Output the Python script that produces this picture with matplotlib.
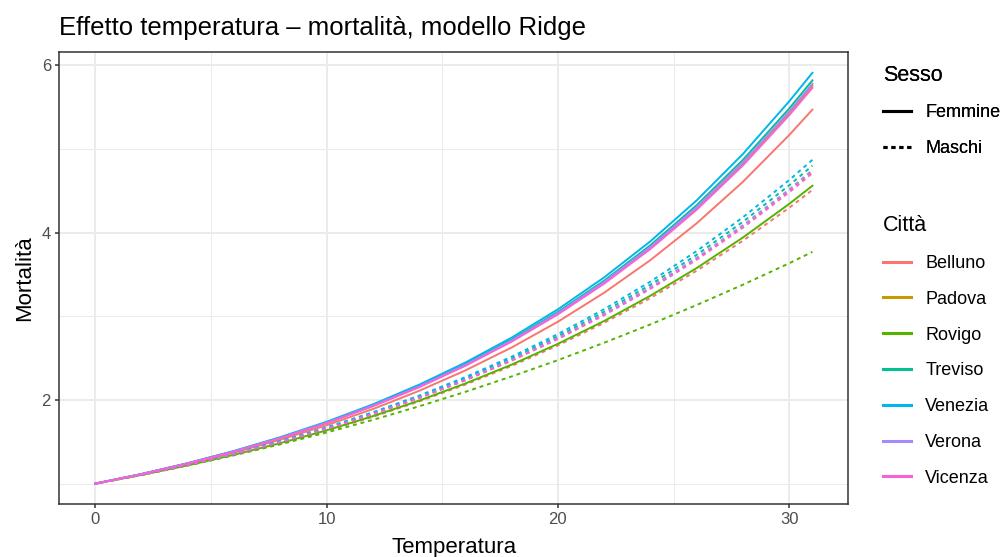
import matplotlib.pyplot as plt
from matplotlib.lines import Line2D

plt.rcParams['font.family'] = ['Liberation Sans', 'DejaVu Sans']

temperatura = [0, 2, 4, 6, 8, 10, 12, 14, 16, 18, 20, 22, 24, 26, 28, 30, 31]

# Femmine
belluno_f = [1, 1.110, 1.233, 1.371, 1.525, 1.698, 1.891, 2.109, 2.353, 2.627,
             2.935, 3.282, 3.672, 4.112, 4.608, 5.167, 5.47]
padova_f = [1, 1.114, 1.241, 1.384, 1.545, 1.725, 1.928, 2.157, 2.415, 2.705,
            3.032, 3.402, 3.820, 4.292, 4.826, 5.431, 5.76]
rovigo_f = [1, 1.104, 1.218, 1.345, 1.484, 1.637, 1.806, 1.992, 2.197, 2.422,
            2.671, 2.944, 3.246, 3.577, 3.942, 4.344, 4.56]
treviso_f = [1, 1.114, 1.243, 1.387, 1.549, 1.731, 1.936, 2.167, 2.427, 2.721,
             3.052, 3.426, 3.850, 4.328, 4.870, 5.484, 5.82]
venezia_f = [1, 1.115, 1.245, 1.391, 1.555, 1.739, 1.947, 2.182, 2.447, 2.745,
             3.083, 3.465, 3.897, 4.386, 4.941, 5.570, 5.91]
verona_f = [1, 1.114, 1.242, 1.385, 1.546, 1.727, 1.931, 2.160, 2.419, 2.710,
            3.039, 3.411, 3.830, 4.305, 4.842, 5.449, 5.78]
vicenza_f = [1, 1.113, 1.240, 1.383, 1.543, 1.722, 1.925, 2.152, 2.408, 2.697,
             3.023, 3.390, 3.805, 4.274, 4.804, 5.404, 5.73]

# Maschi
belluno_m = [1, 1.103, 1.217, 1.342, 1.479, 1.631, 1.798, 1.982, 2.184, 2.407,
             2.652, 2.922, 3.218, 3.545, 3.904, 4.298, 4.51]
padova_m = [1, 1.107, 1.224, 1.354, 1.498, 1.657, 1.832, 2.026, 2.239, 2.475,
            2.736, 3.023, 3.341, 3.691, 4.077, 4.503, 4.73]
rovigo_m = [1, 1.104, 1.217, 1.339, 1.470, 1.611, 1.762, 1.924, 2.097, 2.281,
            2.476, 2.684, 2.903, 3.135, 3.378, 3.634, 3.77]
treviso_m = [1, 1.108, 1.227, 1.358, 1.504, 1.664, 1.842, 2.039, 2.256, 2.496,
             2.761, 3.054, 3.378, 3.735, 4.130, 4.566, 4.80]
venezia_m = [1, 1.109, 1.229, 1.362, 1.509, 1.672, 1.853, 2.052, 2.273, 2.517,
             2.787, 3.085, 3.415, 3.780, 4.184, 4.629, 4.87]
verona_m = [1, 1.107, 1.225, 1.355, 1.499, 1.658, 1.834, 2.029, 2.243, 2.480,
            2.742, 3.030, 3.349, 3.701, 4.089, 4.517, 4.75]
vicenza_m = [1, 1.106, 1.224, 1.353, 1.496, 1.654, 1.829, 2.021, 2.234, 2.469,
             2.728, 3.013, 3.328, 3.676, 4.060, 4.483, 4.71]

citta = ["Belluno", "Padova", "Rovigo", "Treviso", "Venezia", "Verona", "Vicenza"]
colori = ["#F8766D", "#C49A00", "#53B400", "#00C094", "#00B6EB", "#A58AFF", "#FB61D7"]
femmine = [belluno_f, padova_f, rovigo_f, treviso_f, venezia_f, verona_f, vicenza_f]
maschi = [belluno_m, padova_m, rovigo_m, treviso_m, venezia_m, verona_m, vicenza_m]

tratteggio = (0, (2.0, 2.0))
lw = 1.4

fig = plt.figure(figsize=(10.02, 5.57), dpi=100)
ax = fig.add_axes([0.0592, 0.0952, 0.7874, 0.812])

for nome, col, yf, ym in zip(citta, colori, femmine, maschi):
    ax.plot(temperatura, yf, color=col, lw=lw)
    ax.plot(temperatura, ym, color=col, lw=lw, linestyle=tratteggio)

ax.set_xlim(-1.55, 32.55)
ax.set_ylim(0.757, 6.162)
ax.set_xticks([0, 10, 20, 30])
ax.set_yticks([2, 4, 6])
ax.set_xticks([5, 15, 25], minor=True)
ax.set_yticks([1, 3, 5], minor=True)
ax.grid(which='major', color='#EBEBEB', lw=1.4)
ax.grid(which='minor', color='#EBEBEB', lw=0.7)
ax.set_axisbelow(True)
ax.tick_params(which='major', length=3, width=1.1, color='#333333',
               labelcolor='#4D4D4D', labelsize=12, pad=3)
ax.tick_params(which='minor', length=0)
for sp in ax.spines.values():
    sp.set_color('#333333')
    sp.set_linewidth(1.1)

ax.set_xlabel("Temperatura", fontsize=16, labelpad=7)
ax.set_ylabel("Mortalità", fontsize=16, labelpad=5)
ax.set_title("Effetto temperatura – mortalità, modello Ridge", loc='left',
             fontsize=18.5, pad=12)
ax.title.set_x(0.003)

# legends
opts = dict(loc='upper left', frameon=False, fontsize=13, title_fontsize=15.5,
            alignment='left', handlelength=1.55, handletextpad=0.78,
            labelspacing=1.04, borderpad=0, borderaxespad=0)
h_sesso = [Line2D([], [], color='black', lw=2.2),
           Line2D([], [], color='black', lw=2.2, linestyle=(0, (1.3, 1.3)))]
leg1 = fig.legend(h_sesso, ["Femmine", "Maschi"], title="Sesso",
                  bbox_to_anchor=(0.8815, 0.884), **opts)
h_citta = [Line2D([], [], color=c, lw=2.2) for c in colori]
leg2 = fig.legend(h_citta, citta, title="Città",
                  bbox_to_anchor=(0.8815, 0.6136), **opts)
fig.add_artist(leg1)

fig.savefig("out.png", dpi=100)
